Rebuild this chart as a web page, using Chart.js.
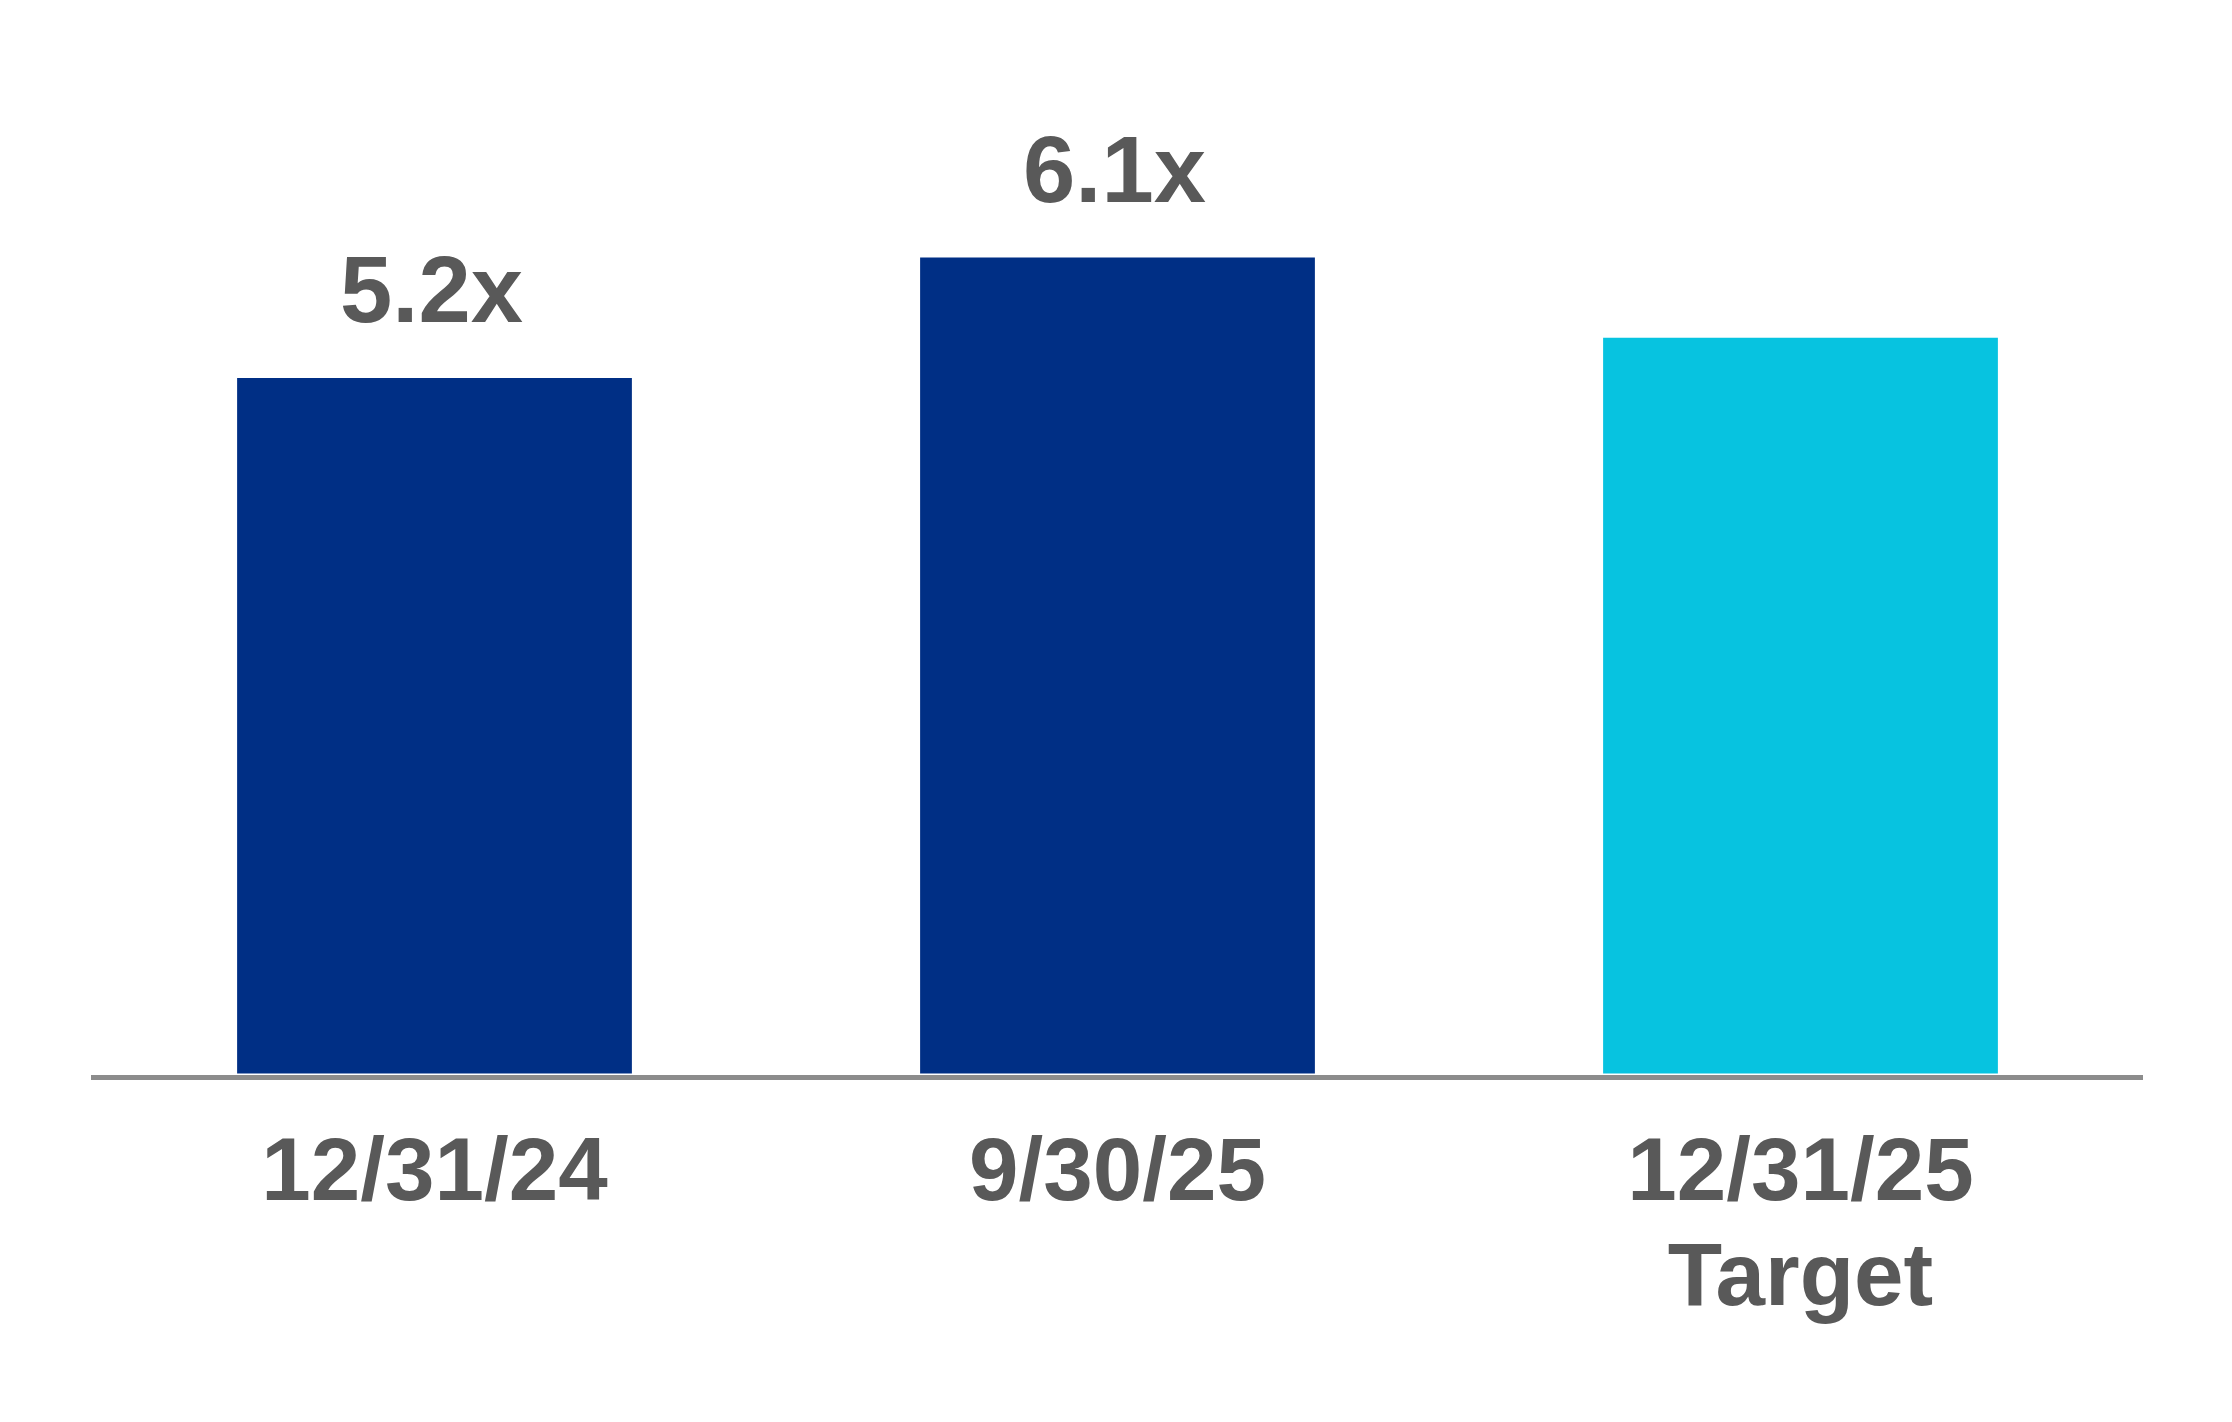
<!DOCTYPE html>
<html>
<head>
<meta charset="utf-8">
<script src="https://cdn.jsdelivr.net/npm/chart.js@4.4.1/dist/chart.umd.min.js"></script>
<style>
    body { margin: 0; background: #ffffff; }
</style>
</head>
<body>
<canvas id="barChart" width="2232" height="1422"></canvas>
<script>
// chart data
var categories = [['12/31/24'], ['9/30/25'], ['12/31/25', 'Target']];
var leverage = [5.2, 6.1, 5.5];
var valueLabels = ['5.2x', '6.1x', ''];
var barColors = ['#002f85', '#002f85', '#07c3e0'];

// labels above the bars
var valueLabelPlugin = {
    id: 'valueLabels',
    afterDatasetsDraw: function(chart) {
        var ctx = chart.ctx;
        var meta = chart.getDatasetMeta(0);
        ctx.save();
        ctx.fillStyle = '#595959';
        ctx.font = 'bold 94px "Liberation Sans", Arial, sans-serif';
        ctx.textAlign = 'center';
        ctx.textBaseline = 'alphabetic';
        meta.data.forEach(function(bar, i) {
            if (!valueLabels[i]) return;
            ctx.fillText(valueLabels[i], bar.x - 3, bar.y - 56);
        });
        ctx.restore();
    }
};

var ctx = document.getElementById('barChart').getContext('2d');
var barChart = new Chart(ctx, {
    type: 'bar',
    data: {
        labels: categories,
        datasets: [{
            data: leverage,
            backgroundColor: barColors,
            borderWidth: 0,
            barPercentage: 0.578,
            categoryPercentage: 1
        }]
    },
    options: {
        responsive: false,
        animation: false,
        layout: {
            padding: { left: 93, right: 90, top: 3.5, bottom: 84.5 }
        },
        plugins: {
            legend: { display: false },
            tooltip: { enabled: false }
        },
        scales: {
            x: {
                grid: { display: false, drawTicks: false },
                border: { display: true, color: '#8c8c8c', width: 5 },
                ticks: {
                    color: '#595959',
                    padding: 45,
                    font: { family: '"Liberation Sans", Arial, sans-serif', size: 89, weight: 'bold', lineHeight: 1.18 }
                },
                afterFit: function(scale) {
                    scale.height = 260;
                }
            },
            y: {
                display: false,
                min: -0.03,
                max: 8
            }
        }
    },
    plugins: [valueLabelPlugin]
});
</script>
</body>
</html>
